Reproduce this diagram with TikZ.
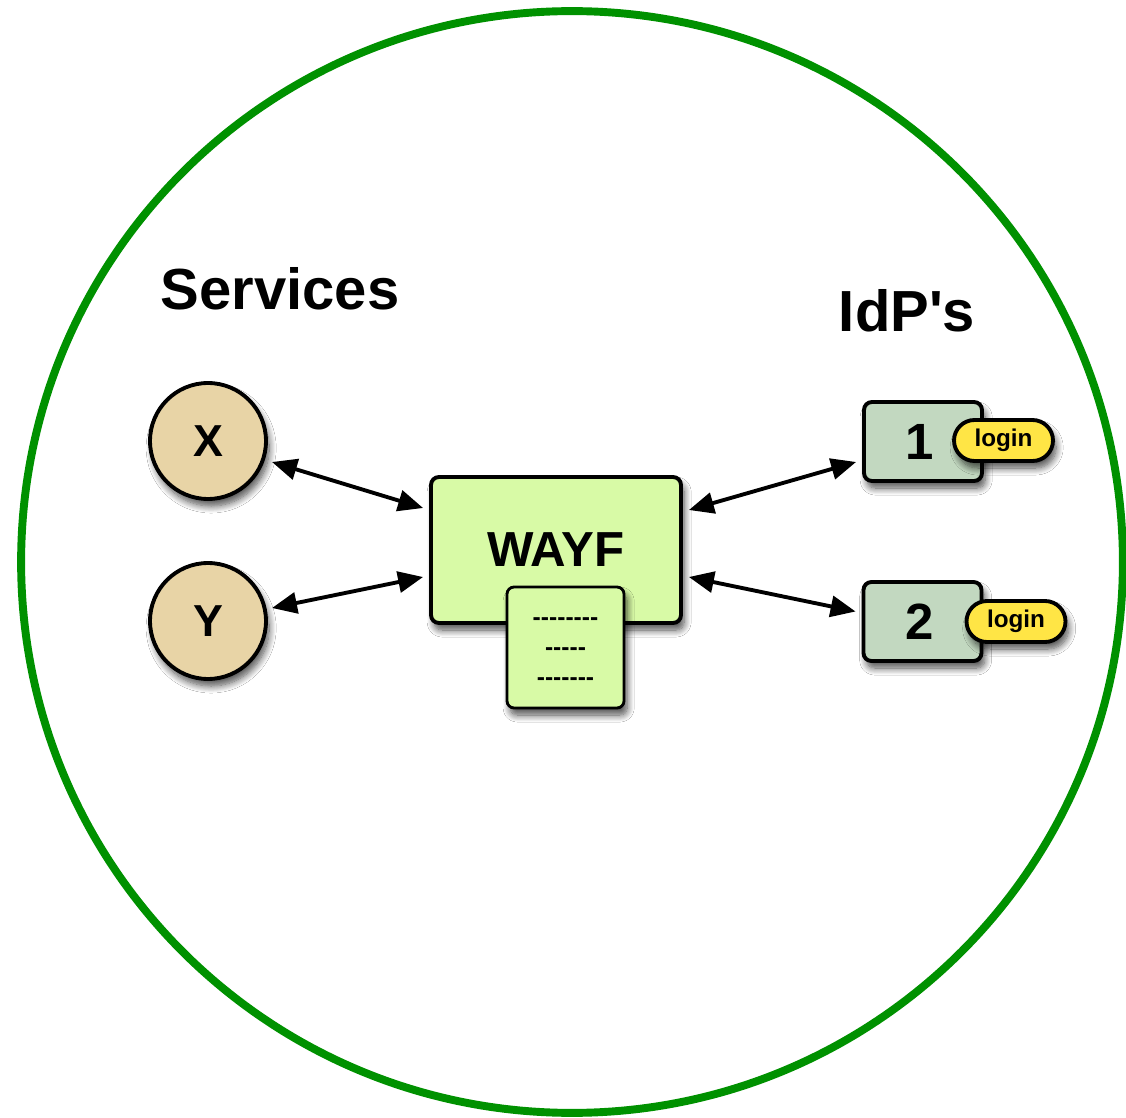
\documentclass[tikz,border=0pt]{standalone}
\usepackage{fontspec}
\setmainfont{Liberation Sans}[Ligatures=TeXOff]
\usetikzlibrary{arrows.meta,calc,shapes.misc,shadows.blur}
\definecolor{ringgreen}{RGB}{0,145,0}
\definecolor{svcfill}{RGB}{232,212,166}
\definecolor{wayffill}{RGB}{216,250,166}
\definecolor{idpfill}{RGB}{194,216,192}
\definecolor{loginfill}{RGB}{255,229,69}
\begin{document}
\begin{tikzpicture}[x=0.02cm,y=0.02cm,
  shad/.style={blur shadow={shadow xshift=1.8pt, shadow yshift=-4pt, shadow blur radius=4pt, shadow blur steps=10, shadow opacity=70}},
  ring/.style={draw=ringgreen, line width=4.5pt},
  heading/.style={font=\fontsize{33}{40}\selectfont\bfseries, inner sep=0pt},
  svc/.style={circle, draw, line width=2.2pt, fill=svcfill, minimum size=2.32cm, inner sep=0pt, shad, font=\fontsize{25.5}{30}\selectfont\bfseries},
  wayfbox/.style={rectangle, rounded corners=4.5pt, draw, line width=2.2pt, fill=wayffill, minimum width=5.0cm, minimum height=2.92cm, inner sep=0pt, shad, font=\fontsize{28}{34}\selectfont\bfseries},
  docbox/.style={rectangle, rounded corners=4pt, draw, line width=1.6pt, fill=wayffill, minimum width=2.34cm, minimum height=2.42cm, inner sep=0pt, shad, align=center, font=\fontsize{14}{17}\selectfont\bfseries},
  idpbox/.style={rectangle, rounded corners=4.5pt, draw, line width=2.2pt, fill=idpfill, minimum width=2.36cm, minimum height=1.58cm, inner sep=0pt, shad, font=\fontsize{29}{34}\selectfont\bfseries},
  loginpill/.style={rounded rectangle, draw, line width=2.2pt, fill=loginfill, minimum width=1.98cm, minimum height=0.82cm, inner sep=0pt, shad, font=\fontsize{13.8}{16}\selectfont\bfseries},
  biarrow/.style={line width=2.2pt, {Triangle[length=0.5cm,width=0.42cm]}-{Triangle[length=0.5cm,width=0.42cm]}}
]
\useasboundingbox (0,0) rectangle (1126,1117);
\fill[white] (0,0) rectangle (1126,1117);
\draw[ring] (572,555) circle [radius=11.02cm];

\node[heading] (services) at (280,828) {Services};
\node[heading] (idps) at (907,806) {IdP's};

\node[svc] (X) at (208,676) {X};
\node[svc] (Y) at (208,496) {Y};

\node[wayfbox] (wayf) at (556,567) {WAYF};
\node[docbox] (doc) at (565.5,469.5) {\rule{0pt}{9pt}--------\\-----\\-------};

\node[idpbox] (idp1) at (923,675.5) {1\kern0.15cm};
\node[loginpill] (login1) at (1003.5,676.5) {login};
\node[idpbox] (idp2) at (922.5,495.5) {2\kern0.1cm};
\node[loginpill] (login2) at (1016,495.5) {login};

\draw[biarrow] ($(X.center)+(64,-21)$) -- ($(wayf.west)+(-6,42)$);
\draw[biarrow] ($(Y.center)+(64,13)$) -- ($(wayf.west)+(-6,-27)$);
\draw[biarrow] ($(wayf.east)+(6,40)$) -- ($(idp1.west)+(-6,-20.5)$);
\draw[biarrow] ($(wayf.east)+(6,-27)$) -- ($(idp2.west)+(-6,10)$);
\end{tikzpicture}
\end{document}
